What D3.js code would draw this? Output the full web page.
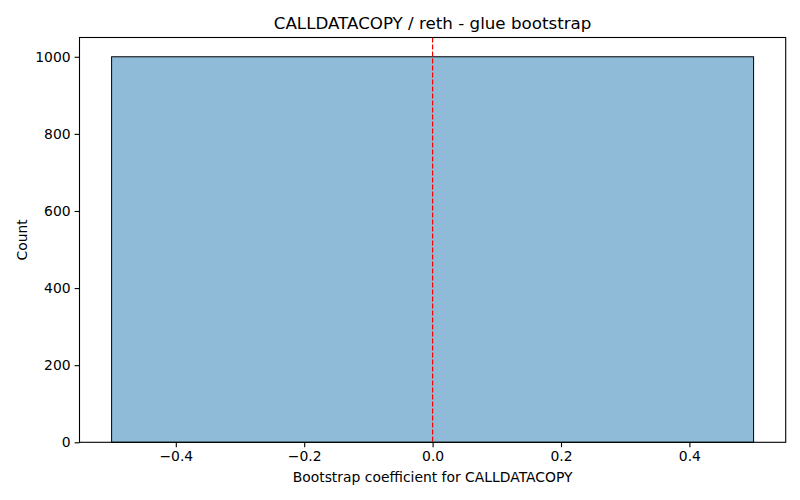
<!DOCTYPE html>
<html>
<head>
<meta charset="utf-8">
<script src="https://cdn.jsdelivr.net/npm/d3@7"></script>
<style>
  body { margin: 0; background: #fff; }
  text { font-family: "DejaVu Sans", sans-serif; }
</style>
</head>
<body>
<div id="chart"></div>
<script>
// histogram bins: [x0, x1] and counts
var binEdges = [[-0.5, 0.5]];
var binCounts = [1000];
var xTicks = [-0.4, -0.2, 0.0, 0.2, 0.4];
var yTicks = [0, 200, 400, 600, 800, 1000];
var refLine = [0];

var width = 800, height = 500;
var margin = { left: 79.5, right: 14.3, top: 37.5, bottom: 57.7 };

var svg = d3.select("#chart")
    .append("svg")
    .attr("width", width)
    .attr("height", height)

var x = d3.scaleLinear()
    .domain([-0.55, 0.55])
    .range([margin.left, width - margin.right])

var y = d3.scaleLinear()
    .domain([0, 1050])
    .range([height - margin.bottom, margin.top])

var fmt = function(d) { return d3.format(".1f")(d).replace("-", "\u2212"); }

// bars
svg.selectAll("rect.bar")
    .data(binCounts)
    .enter()
    .append("rect")
    .attr("class", "bar")
    .attr("x", (d, i) => x(binEdges[i][0]))
    .attr("y", d => y(d))
    .attr("width", (d, i) => x(binEdges[i][1]) - x(binEdges[i][0]))
    .attr("height", d => y(0) - y(d))
    .attr("fill", "#1f77b4")
    .attr("fill-opacity", 0.5)
    .attr("stroke", "#000")
    .attr("stroke-width", 1)

// dashed reference line
svg.selectAll("line.ref")
    .data(refLine)
    .enter()
    .append("line")
    .attr("class", "ref")
    .attr("x1", d => x(d))
    .attr("x2", d => x(d))
    .attr("y1", margin.top)
    .attr("y2", height - margin.bottom)
    .attr("stroke", "red")
    .attr("stroke-width", 1.2)
    .attr("stroke-dasharray", "5,2")

// axes
var xAxis = svg.append("g")
    .attr("transform", "translate(0," + (height - margin.bottom) + ")")
    .call(d3.axisBottom(x).tickValues(xTicks).tickFormat(fmt).tickSizeOuter(0).tickSize(4.9).tickPadding(4))

var yAxis = svg.append("g")
    .attr("transform", "translate(" + margin.left + ",0)")
    .call(d3.axisLeft(y).tickValues(yTicks).tickFormat(d3.format("d")).tickSizeOuter(0).tickSize(4.9).tickPadding(4))

svg.selectAll(".tick text")
    .attr("font-size", "13.9px")
    .attr("font-family", "DejaVu Sans")
    .attr("fill", "#000")
svg.selectAll(".tick line").attr("stroke", "#000").attr("stroke-width", 1.1)
svg.selectAll(".domain").remove()

// frame
svg.append("rect")
    .attr("x", margin.left)
    .attr("y", margin.top)
    .attr("width", width - margin.left - margin.right)
    .attr("height", height - margin.top - margin.bottom)
    .attr("fill", "none")
    .attr("stroke", "#000")
    .attr("stroke-width", 1.1)

// labels
svg.append("text")
    .attr("x", (margin.left + width - margin.right) / 2)
    .attr("y", 29)
    .attr("text-anchor", "middle")
    .attr("font-size", "16.7px")
    .text("CALLDATACOPY / reth - glue bootstrap")

svg.append("text")
    .attr("x", (margin.left + width - margin.right) / 2)
    .attr("y", 482)
    .attr("text-anchor", "middle")
    .attr("font-size", "13.9px")
    .text("Bootstrap coefficient for CALLDATACOPY")

svg.append("text")
    .attr("transform", "translate(27," + ((margin.top + height - margin.bottom) / 2) + ") rotate(-90)")
    .attr("text-anchor", "middle")
    .attr("font-size", "13.9px")
    .text("Count")
</script>
</body>
</html>
